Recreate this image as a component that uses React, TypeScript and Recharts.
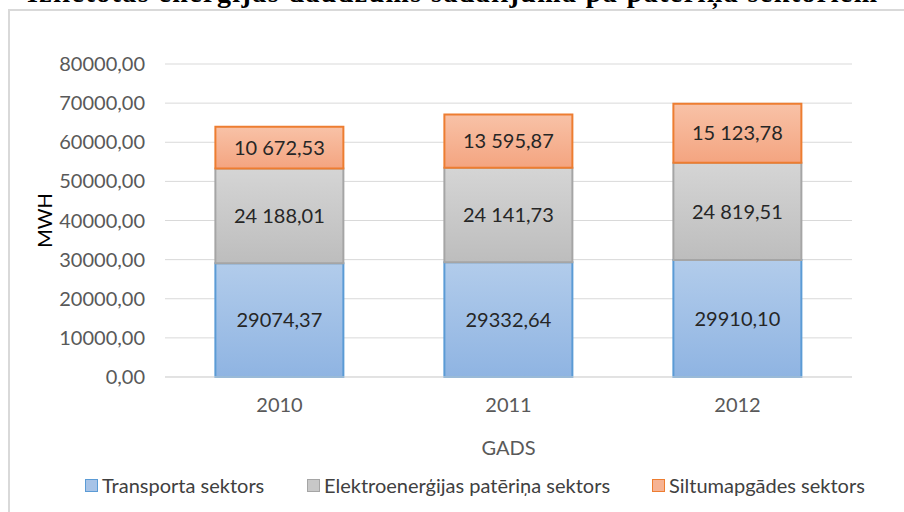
import React from 'react';
import { BarChart, Bar, XAxis, YAxis, CartesianGrid, LabelList } from 'recharts';

const years = ['2010', '2011', '2012'];
const transport = [29074.37, 29332.64, 29910.1];
const electricity = [24188.01, 24141.73, 24819.51];
const heating = [10672.53, 13595.87, 15123.78];
const yTicks = [0, 10000, 20000, 30000, 40000, 50000, 60000, 70000, 80000];
const seriesNames = ['Transporta sektors', 'Elektroenerģijas patēriņa sektors', 'Siltumapgādes sektors'];
const titleText = 'Izlietotās enerģijas daudzums sadalījumā pa patēriņa sektoriem';

const data = years.map((y, i) => ({ year: y, transport: transport[i], electricity: electricity[i], heating: heating[i] }));

const FONT = 'Lato, "Open Sans", sans-serif';

const fmtPlain = (v: any) => Number(v).toFixed(2).replace('.', ',');
const fmtGroup = (v: any) => {
  const [i, d] = Number(v).toFixed(2).split('.');
  return i.replace(/\B(?=(\d{3})+(?!\d))/g, ' ') + ',' + d;
};

const legendItems = [
  { name: seriesNames[0], fill: '#a7c3e7', stroke: '#5b9bd5', left: 85 },
  { name: seriesNames[1], fill: '#c8c8c8', stroke: '#a5a5a5', left: 307 },
  { name: seriesNames[2], fill: '#f6b394', stroke: '#ed7d31', left: 652 },
];

export default function App() {
  return (
    <div style={{ position: 'absolute', left: 0, top: 0, width: 904, height: 512, overflow: 'hidden', background: '#fff' }}>
      <div style={{ position: 'absolute', left: 8, top: 9, width: 1000, height: 1000, border: '2px solid #d9d9d9' }} />
      <div style={{ position: 'absolute', left: 0, top: 0 }}>
        <BarChart width={904} height={512} data={data} margin={{ top: 64, right: 52, left: 0, bottom: 105 }} barCategoryGap="22%">
          <defs>
            <linearGradient id="gBlue" x1="0" y1="0" x2="0" y2="1">
              <stop offset="0%" stopColor="#b2cceb" />
              <stop offset="100%" stopColor="#8fb4e2" />
            </linearGradient>
            <linearGradient id="gGray" x1="0" y1="0" x2="0" y2="1">
              <stop offset="0%" stopColor="#d5d5d5" />
              <stop offset="100%" stopColor="#bdbdbd" />
            </linearGradient>
            <linearGradient id="gOrange" x1="0" y1="0" x2="0" y2="1">
              <stop offset="0%" stopColor="#f8c2a7" />
              <stop offset="100%" stopColor="#f4a480" />
            </linearGradient>
          </defs>
          <CartesianGrid vertical={false} stroke="#d9d9d9" strokeWidth={1} />
          <XAxis
            dataKey="year"
            tickLine={false}
            axisLine={{ stroke: '#d9d9d9' }}
            tickMargin={15}
            height={30}
            tick={{ fill: '#595959', fontSize: 20, fontFamily: FONT }}
            label={{
              content: (p: any) => {
                const vb = p.viewBox || {};
                return (
                  <text x={vb.x + vb.width / 2} y={vb.y + 78} textAnchor="middle" fill="#595959" fontSize={20} fontFamily={FONT}>
                    GADS
                  </text>
                );
              },
            }}
          />
          <YAxis
            width={165}
            domain={[0, 80000]}
            ticks={yTicks}
            interval={0}
            tickLine={false}
            axisLine={false}
            tickMargin={14}
            tickFormatter={fmtPlain}
            tick={{ fill: '#595959', fontSize: 20, fontFamily: FONT }}
            label={{
              content: (p: any) => {
                const vb = p.viewBox || {};
                const cx = vb.x + 44;
                const cy = vb.y + vb.height / 2;
                return (
                  <text x={cx} y={cy} transform={`rotate(-90 ${cx} ${cy})`} textAnchor="middle" dominantBaseline="central" fill="#000" fontSize={20} fontFamily={FONT}>
                    MWH
                  </text>
                );
              },
            }}
          />
          <Bar dataKey="transport" name={seriesNames[0]} stackId="a" fill="url(#gBlue)" stroke="#5b9bd5" strokeWidth={2} isAnimationActive={false}>
            <LabelList dataKey="transport" position="center" formatter={fmtPlain} fill="#262626" fontSize={20} fontFamily={FONT} />
          </Bar>
          <Bar dataKey="electricity" name={seriesNames[1]} stackId="a" fill="url(#gGray)" stroke="#a5a5a5" strokeWidth={2} isAnimationActive={false}>
            <LabelList dataKey="electricity" position="center" formatter={fmtGroup} fill="#262626" fontSize={20} fontFamily={FONT} />
          </Bar>
          <Bar dataKey="heating" name={seriesNames[2]} stackId="a" fill="url(#gOrange)" stroke="#ed7d31" strokeWidth={2} isAnimationActive={false}>
            <LabelList dataKey="heating" position="center" formatter={fmtGroup} fill="#262626" fontSize={20} fontFamily={FONT} />
          </Bar>
        </BarChart>
      </div>
      <svg style={{ position: 'absolute', left: 0, top: 0 }} width={904} height={30}>
        <text x={452} y={2} textAnchor="middle" textLength={850} lengthAdjust="spacing" fontFamily='"Liberation Serif", serif' fontWeight="bold" fontSize={28} fill="#000">
          {titleText}
        </text>
      </svg>
      {legendItems.map((it) => (
        <div key={it.name} style={{ position: 'absolute', left: it.left, top: 473, height: 24, display: 'flex', alignItems: 'center', fontFamily: FONT, fontSize: 20, color: '#404040', whiteSpace: 'nowrap' }}>
          <span style={{ display: 'inline-block', width: 11, height: 11, background: it.fill, border: `1.5px solid ${it.stroke}`, marginRight: 4 }} />
          <span>{it.name}</span>
        </div>
      ))}
    </div>
  );
}
